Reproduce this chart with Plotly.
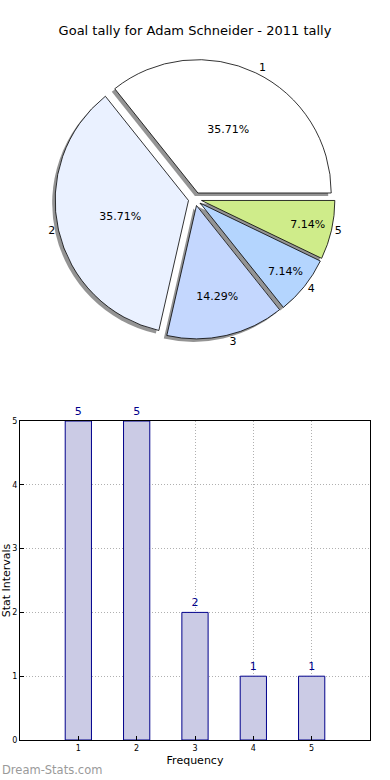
import plotly.graph_objects as go

# ---- data ----
categories = ["1", "2", "3", "4", "5"]
goals = [5, 5, 2, 1, 1]
pie_colors = ["#ffffff", "#eaf1ff", "#c4d7fe", "#b4d5fe", "#cfec8a"]
bar_x = [1, 2, 3, 4, 5]
y_ticks = [0, 1, 2, 3, 4, 5]

W, H = 390, 780
FONT = "DejaVu Sans"

def px_x(a, b):
    return [a / W, b / W]

def px_y(top, bottom):
    return [1 - bottom / H, 1 - top / H]

pull = [0.05] * len(goals)
cx, cy, half = 195, 199, 140
# first slice starts at 3 o'clock and runs counterclockwise
rot = 90 - 360 * goals[0] / sum(goals)

fig = go.Figure()

# shadow pie
fig.add_trace(go.Pie(
    labels=categories, values=goals, sort=False, direction="counterclockwise",
    rotation=rot, pull=pull,
    marker=dict(colors=["rgba(60,60,60,0.55)"] * 5, line=dict(width=0)),
    textinfo="none", hoverinfo="skip", showlegend=False,
    domain=dict(x=px_x(cx - half - 3, cx + half - 3), y=px_y(cy - half + 3, cy + half + 3)),
))
# main pie
fig.add_trace(go.Pie(
    labels=categories, values=goals, sort=False, direction="counterclockwise",
    rotation=rot, pull=pull,
    marker=dict(colors=pie_colors, line=dict(color="black", width=0.8)),
    texttemplate="%{percent:.2%}", textposition="inside",
    insidetextorientation="horizontal",
    textfont=dict(family=FONT, size=11, color="black"),
    hoverinfo="skip", showlegend=False,
    domain=dict(x=px_x(cx - half, cx + half), y=px_y(cy - half, cy + half)),
))
# outer labels
fig.add_trace(go.Pie(
    labels=categories, values=goals, sort=False, direction="counterclockwise",
    rotation=rot, pull=pull,
    marker=dict(colors=["rgba(0,0,0,0)"] * 5, line=dict(width=0)),
    texttemplate="%{label}", textposition="outside",
    textfont=dict(family=FONT, size=11, color="black"),
    hoverinfo="skip", showlegend=False,
    domain=dict(x=px_x(cx - half, cx + half), y=px_y(cy - half, cy + half)),
))

# bars
fig.add_trace(go.Bar(
    x=bar_x, y=goals, width=0.45,
    marker=dict(color="#cbcbe5", line=dict(color="#00008b", width=1)),
    text=[str(v) for v in goals], textposition="outside",
    textfont=dict(family=FONT, size=11, color="#00008b"),
    cliponaxis=False, showlegend=False, hoverinfo="skip",
))

grid = dict(showgrid=True, gridcolor="#b0b0b0", griddash="1px,2px", gridwidth=1)

fig.update_layout(
    width=W, height=H,
    margin=dict(l=0, r=0, t=0, b=0),
    paper_bgcolor="white", plot_bgcolor="white",
    font=dict(family=FONT, color="black"),
    title=dict(text="Goal tally for Adam Schneider - 2011 tally",
               xref="paper", x=0.5, xanchor="center", y=1 - 30 / H, yanchor="middle",
               font=dict(family=FONT, size=13, color="black")),
    uniformtext=dict(minsize=11, mode="show"),
    modebar=dict(bgcolor="rgba(0,0,0,0)", color="rgba(0,0,0,0)",
                 activecolor="rgba(0,0,0,0)"),
    xaxis=dict(domain=px_x(20, 370), range=[0, 6], tickvals=bar_x,
               ticktext=[str(v) for v in bar_x], automargin=False,
               showline=True, linecolor="black", linewidth=1, mirror=True,
               ticks="inside", ticklen=4, tickcolor="black",
               zeroline=False, tickfont=dict(size=8),
               title=dict(text="Frequency", font=dict(size=11), standoff=4),
               **grid),
    yaxis=dict(domain=px_y(421, 740), range=[0, 5], tickvals=y_ticks,
               automargin=False,
               showline=True, linecolor="black", linewidth=1, mirror=True,
               ticks="inside", ticklen=4, tickcolor="black",
               zeroline=False, tickfont=dict(size=8),
               title=dict(text="Stat Intervals", font=dict(size=11), standoff=0),
               **grid),
    annotations=[dict(text="Dream-Stats.com", xref="paper", yref="paper",
                      x=0, xanchor="left", y=1 - 770 / H, yanchor="middle",
                      showarrow=False,
                      font=dict(family=FONT, size=11.5, color="#9a9a9a"))],
)

fig.write_html("out.html", config={"displayModeBar": False},
               post_script="document.body.style.margin='0';")
